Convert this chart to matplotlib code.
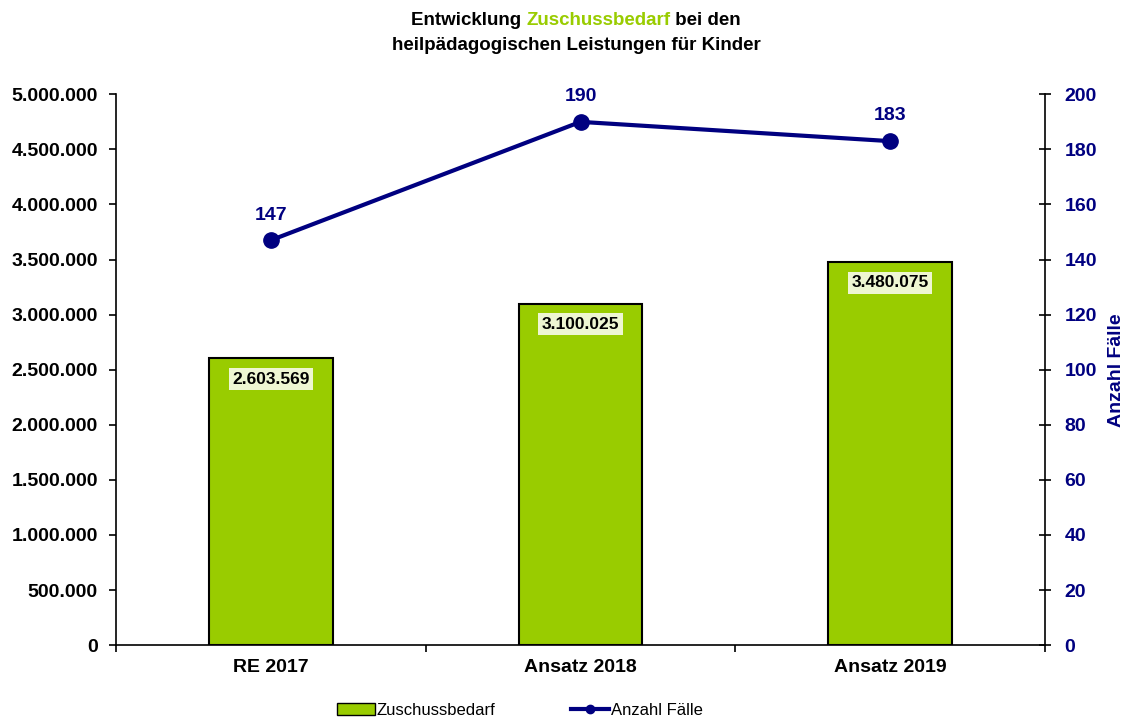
import numpy as np
import matplotlib.pyplot as plt
from matplotlib.ticker import FuncFormatter, FixedLocator
from matplotlib.patches import Patch
from matplotlib.lines import Line2D

# --- data ---
categories = ['RE 2017', 'Ansatz 2018', 'Ansatz 2019']
zuschuss = [2603569, 3100025, 3480075]
faelle = [147, 190, 183]

plt.rcParams['font.family'] = ['Liberation Sans', 'DejaVu Sans']
plt.rcParams['font.weight'] = 'bold'

green = '#99cc00'
navy = '#000080'
tick_fs = 14

fig = plt.figure(figsize=(11.25, 7.2), dpi=100)
ax = fig.add_axes([0.103, 0.104, 0.826, 0.765])
ax2 = ax.twinx()

x = np.arange(len(categories))
ax.bar(x, zuschuss, width=0.4, color=green, edgecolor='black', linewidth=1.5, zorder=2)
for xi, v in zip(x, zuschuss):
    lab = f'{v:,}'.replace(',', '.')
    ax.annotate(lab, (xi, v), xytext=(0, -15), textcoords='offset points',
                ha='center', va='center', fontsize=12.5, fontweight='bold',
                bbox=dict(boxstyle='square,pad=0.2', facecolor='#eef6d2', edgecolor='none'),
                zorder=3)

ax.set_xlim(-0.5, 2.5)
ax.set_ylim(0, 5000000)
ax.set_yticks(np.arange(0, 5000001, 500000))
ax.yaxis.set_major_formatter(FuncFormatter(lambda v, p: f'{int(v):,}'.replace(',', '.')))
ax.set_xticks(x)
ax.set_xticklabels(categories, fontsize=tick_fs, fontweight='bold')
ax.tick_params(axis='x', which='major', length=0, pad=10)
ax.xaxis.set_minor_locator(FixedLocator([-0.5, 0.5, 1.5, 2.5]))
ax.tick_params(axis='x', which='minor', length=5, width=1.2, direction='out')
ax.tick_params(axis='y', labelsize=tick_fs, length=5, width=1.2, direction='out', pad=8)
for lbl in ax.get_yticklabels():
    lbl.set_fontweight('bold')
ax.spines['top'].set_visible(False)
ax.spines['right'].set_visible(False)
for s in ['left', 'bottom']:
    ax.spines[s].set_linewidth(1.2)

# line on secondary axis
ax2.plot(x, faelle, color=navy, linewidth=3, marker='o', markersize=11, zorder=4)
for xi, v in zip(x, faelle):
    ax2.annotate(str(v), (xi, v), xytext=(0, 12), textcoords='offset points',
                 ha='center', va='bottom', fontsize=tick_fs, fontweight='bold', color=navy)
ax2.set_ylim(0, 200)
ax2.set_yticks(np.arange(0, 201, 20))
ax2.tick_params(axis='y', labelsize=tick_fs, labelcolor=navy, length=8, width=1.2,
                direction='inout', pad=10)
for lbl in ax2.get_yticklabels():
    lbl.set_fontweight('bold')
ax2.set_ylabel('Anzahl Fälle', color=navy, fontsize=tick_fs, fontweight='bold', labelpad=8)
ax2.spines['top'].set_visible(False)
ax2.spines['left'].set_visible(False)
ax2.spines['bottom'].set_visible(False)
ax2.spines['right'].set_linewidth(1.2)

# title with coloured middle word
title_fs = 13.5
fig.canvas.draw()
renderer = fig.canvas.get_renderer()
parts = [('Entwicklung ', 'black'), ('Zuschussbedarf', green), (' bei den', 'black')]
tmp = [fig.text(0, 0, t, fontsize=title_fs, fontweight='bold') for t, c in parts]
widths = [t.get_window_extent(renderer).width / fig.bbox.width for t in tmp]
for t in tmp:
    t.remove()
full = fig.text(0, 0, ''.join(p[0] for p in parts), fontsize=title_fs, fontweight='bold')
total = full.get_window_extent(renderer).width / fig.bbox.width
full.remove()
xpos = 0.512 - total / 2
scale = total / sum(widths)
for (t, c), w in zip(parts, widths):
    fig.text(xpos, 0.972, t, fontsize=title_fs, fontweight='bold', color=c, ha='left', va='center')
    xpos += w * scale
fig.text(0.512, 0.937, 'heilpädagogischen Leistungen für Kinder', fontsize=title_fs,
         fontweight='bold', ha='center', va='center')

# legend
handles = [Patch(facecolor=green, edgecolor='black', linewidth=1),
           Line2D([0], [0], color=navy, linewidth=3, marker='o', markersize=6)]
fig.legend(handles, ['Zuschussbedarf', 'Anzahl Fälle'], loc='center',
           bbox_to_anchor=(0.462, 0.013), ncol=2, frameon=False,
           prop={'size': 12, 'weight': 'normal'}, handletextpad=0.1,
           columnspacing=4.5, handlelength=2.3)

fig.savefig('out.png', dpi=100)
